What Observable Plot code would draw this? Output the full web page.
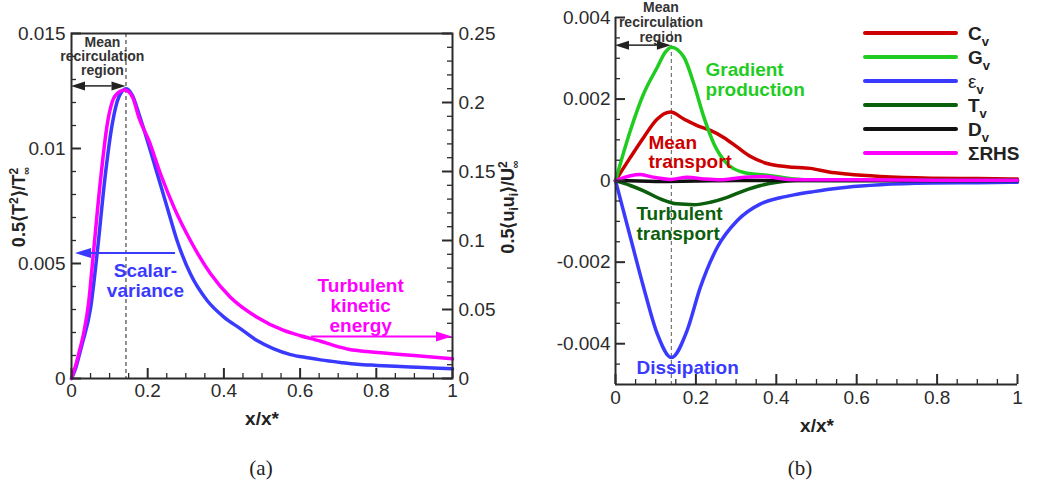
<!DOCTYPE html>
<html><head><meta charset="utf-8">
<script src="https://cdn.jsdelivr.net/npm/d3@7"></script>
<script src="https://cdn.jsdelivr.net/npm/@observablehq/plot@0.6"></script>
<style>
body{margin:0;background:#fff;}
#wrap{position:relative;width:1037px;height:487px;overflow:hidden;background:#fff;}
#wrap svg{position:absolute;top:0;}
</style></head><body><div id="wrap"></div>
<script>
// ---------- Panel (a) data ----------
const xScalar = [0, 0.01, 0.019, 0.028, 0.05, 0.069, 0.087, 0.107, 0.124, 0.144, 0.16, 0.177, 0.199, 0.225, 0.251, 0.277, 0.312, 0.356, 0.4, 0.444, 0.487, 0.531, 0.575, 0.62, 0.654, 0.706, 0.75, 0.802, 0.85, 0.907, 0.95, 1.0];
const scalarVariance = [0, 0.0004, 0.00093, 0.0015, 0.00305, 0.0057, 0.0086, 0.01107, 0.01223, 0.0126, 0.0123, 0.0115, 0.01035, 0.0089, 0.00745, 0.006, 0.00455, 0.00339, 0.00267, 0.00216, 0.00165, 0.00129, 0.00104, 0.0009, 0.00081, 0.0007, 0.00062, 0.00057, 0.00053, 0.00049, 0.00046, 0.00042];
const xTke = [0, 0.0105, 0.019, 0.032, 0.045, 0.056, 0.076, 0.094, 0.115, 0.14, 0.16, 0.177, 0.203, 0.234, 0.269, 0.312, 0.365, 0.417, 0.487, 0.557, 0.601, 0.654, 0.688, 0.73, 0.776, 0.82, 0.864, 0.93, 1.0];
const tkeValues = [0, 0.009, 0.018, 0.033, 0.055, 0.0865, 0.1435, 0.1845, 0.205, 0.209, 0.204, 0.189, 0.1725, 0.148, 0.124, 0.1, 0.0759, 0.0589, 0.0444, 0.0348, 0.031, 0.027, 0.024, 0.021, 0.0195, 0.0185, 0.0174, 0.016, 0.0143];
const xMajor = [0, 0.2, 0.4, 0.6, 0.8, 1];
const xMinor = [0.05, 0.1, 0.15, 0.25, 0.3, 0.35, 0.45, 0.5, 0.55, 0.65, 0.7, 0.75, 0.85, 0.9, 0.95];
const yMajorA = [0, 0.005, 0.01, 0.015];
const yMinorA = [0.001, 0.002, 0.003, 0.004, 0.006, 0.007, 0.008, 0.009, 0.011, 0.012, 0.013, 0.014];
const tkeMajor = [0, 0.05, 0.1, 0.15, 0.2, 0.25];
const tkeMinor = [0.01, 0.02, 0.03, 0.04, 0.06, 0.07, 0.08, 0.09, 0.11, 0.12, 0.13, 0.14, 0.16, 0.17, 0.18, 0.19, 0.21, 0.22, 0.23, 0.24];
const recirculationA = 0.143;

// ---------- Panel (b) data ----------
const xC = [0, 0.037, 0.07, 0.104, 0.137, 0.17, 0.203, 0.236, 0.269, 0.303, 0.336, 0.377, 0.427, 0.485, 0.531, 0.576, 0.659, 0.784, 0.9, 1.0];
const Cv = [0, 0.00057, 0.00106, 0.00151, 0.00168, 0.00151, 0.00135, 0.00123, 0.00106, 0.00082, 0.00059, 0.00042, 0.00034, 0.0003, 0.00021, 0.00016, 0.0001, 0.00006, 0.00005, 0.00004];
const xG = [0, 0.037, 0.07, 0.104, 0.124, 0.139, 0.17, 0.195, 0.22, 0.245, 0.278, 0.319, 0.386, 0.444, 0.5, 0.6, 1.0];
const Gv = [0, 0.00123, 0.00213, 0.00278, 0.00315, 0.00327, 0.00303, 0.00237, 0.00155, 0.0009, 0.00041, 0.0002, 0.00012, 0.00004, 0.00001, 0, 0];
const xE = [0, 0.037, 0.07, 0.104, 0.139, 0.178, 0.211, 0.253, 0.303, 0.361, 0.41, 0.444, 0.493, 0.527, 0.576, 0.659, 0.784, 0.9, 1.0];
const Ev = [0, -0.00139, -0.00262, -0.00376, -0.00434, -0.00368, -0.00262, -0.00164, -0.00098, -0.00057, -0.00042, -0.00035, -0.00027, -0.00022, -0.00016, -0.0001, -0.00006, -0.00005, -0.00004];
const xT = [0, 0.037, 0.07, 0.112, 0.153, 0.195, 0.236, 0.278, 0.319, 0.361, 0.402, 0.45, 1.0];
const Tv = [0, -0.00012, -0.00025, -0.00045, -0.00057, -0.00059, -0.00053, -0.00041, -0.00025, -0.00012, -0.00004, 0, 0];
const xD = [0, 0.1, 0.2, 0.3, 0.4, 0.5, 1.0];
const Dv = [0, -0.00002, -0.00001, 0, 0, 0, 0];
const xR = [0, 0.037, 0.062, 0.095, 0.137, 0.178, 0.22, 0.26, 0.32, 0.37, 0.43, 0.5, 0.6, 0.8, 1.0];
const RHSv = [0, 0.00012, 0.00015, 0.00008, 0.00003, 0.00008, 0.00004, 0.00002, 0.00008, 0.0001, 0.00003, 0.00002, 0.00002, 0.00001, 0.00001];
const yMajorB = [-0.004, -0.002, 0, 0.002, 0.004];
const yMinorB = [-0.0045, -0.0035, -0.003, -0.0025, -0.0015, -0.001, -0.0005, 0.0005, 0.001, 0.0015, 0.0025, 0.003, 0.0035];
const recirculationB = 0.139;
const legendNames = ["C", "G", "ε", "T", "D", "ΣRHS"];

// ---------- styles ----------
const FONT = '"Liberation Sans", Arial, Helvetica, sans-serif';
const AX = "#2b2b2b";
const BLUE = "#3a3aff", MAGENTA = "#ff00ff", RED = "#cc0000", GREEN = "#1fcc1f", DKGREEN = "#0b5e0b", BLACK = "#111111";
const CURVE = "monotone-x";
const fmt = d => String(d);
const rows = (xs, vs) => xs.map((x, i) => ({x, v: vs[i]}));
const ratio = 0.015 / 0.25;

const wrap = d3.select("#wrap");

function arrow(svg, plot, x1, y1, x2, y2, color, opts = {}) {
  const {head = 14, half = 5, width = 1.6, both = false} = opts;
  const sx = plot.scale("x"), sy = plot.scale("y");
  const X1 = sx.apply(x1), Y1 = sy.apply(y1), X2 = sx.apply(x2), Y2 = sy.apply(y2);
  const a = Math.atan2(Y2 - Y1, X2 - X1), c = Math.cos(a), s = Math.sin(a);
  const sX1 = both ? X1 + head * c : X1, sY1 = both ? Y1 + head * s : Y1;
  svg.append("line").attr("x1", sX1).attr("y1", sY1).attr("x2", X2 - head * c).attr("y2", Y2 - head * s)
    .attr("stroke", color).attr("stroke-width", width);
  const tri = (px, py, dc, ds) => {
    const bx = px - head * dc, by = py - head * ds;
    svg.append("polygon").attr("fill", color)
      .attr("points", `${px},${py} ${bx + half * ds},${by - half * dc} ${bx - half * ds},${by + half * dc}`);
  };
  tri(X2, Y2, c, s);
  if (both) tri(X1, Y1, -c, -s);
}
function rich(sel, parts) {
  parts.forEach(p => {
    const t = sel.append("tspan").text(p.t);
    if (p.dx) t.attr("dx", p.dx);
    if (p.dy) t.attr("dy", p.dy);
    if (p.size) t.attr("font-size", p.size);
    if (p.weight) t.attr("font-weight", p.weight);
  });
}

// ---------- Panel (a) ----------
const WA = 540, HA = 487, mLA = 71, mRA = 88, mTA = 33, mBA = 109;
const innerWA = WA - mLA - mRA, innerHA = HA - mTA - mBA;
const pa = Plot.plot({
  width: WA, height: HA, marginLeft: mLA, marginRight: mRA, marginTop: mTA, marginBottom: mBA,
  x: {domain: [0, 1], label: null}, y: {domain: [0, 0.015], label: null},
  style: {fontFamily: FONT, fontSize: "19px", color: AX, background: "transparent", overflow: "visible"},
  marks: [
    Plot.ruleX([recirculationA], {stroke: "#222", strokeWidth: 1, strokeDasharray: "4,3"}),
    Plot.line(rows(xScalar, scalarVariance), {x: "x", y: "v", stroke: BLUE, strokeWidth: 3.5, curve: CURVE}),
    Plot.line(rows(xTke, tkeValues), {x: "x", y: d => d.v * ratio, stroke: MAGENTA, strokeWidth: 3.5, curve: CURVE}),
    Plot.tickX(xMajor, {x: d => d, insetTop: innerHA - 10, stroke: AX, strokeWidth: 2}),
    Plot.tickX(xMinor, {x: d => d, insetTop: innerHA - 5, stroke: AX, strokeWidth: 1.3}),
    Plot.tickY(yMajorA, {y: d => d, insetRight: innerWA - 10, stroke: AX, strokeWidth: 2}),
    Plot.tickY(yMinorA, {y: d => d, insetRight: innerWA - 5, stroke: AX, strokeWidth: 1.3}),
    Plot.tickY(tkeMajor, {y: d => d * ratio, insetLeft: innerWA - 10, stroke: AX, strokeWidth: 2}),
    Plot.tickY(tkeMinor, {y: d => d * ratio, insetLeft: innerWA - 5, stroke: AX, strokeWidth: 1.3}),
    Plot.frame({stroke: AX, strokeWidth: 2}),
    Plot.axisX(xMajor, {tickSize: 0, tickPadding: 5, tickFormat: fmt, label: null, fontSize: 19}),
    Plot.axisY(yMajorA, {anchor: "left", tickSize: 0, tickPadding: 6, tickFormat: fmt, label: null, fontSize: 19}),
    Plot.axisY(tkeMajor.map(t => t * ratio), {anchor: "right", tickSize: 0, tickPadding: 6,
      tickFormat: d => fmt(Math.round(d / ratio * 1000) / 1000), label: null, fontSize: 19}),
    Plot.text([{x: 0.081, y: 0.014, t: "Mean\nrecirculation\nregion"}], {x: "x", y: "y", text: "t",
      fontSize: 14, fontWeight: "bold", fill: "#333", lineHeight: 1.0}),
    Plot.text([{x: 0.194, y: 0.00426, t: "Scalar-\nvariance"}], {x: "x", y: "y", text: "t",
      fontSize: 19, fontWeight: "bold", fill: BLUE, lineHeight: 1.05}),
    Plot.text([{x: 0.759, y: 0.00317, t: "Turbulent\nkinetic\nenergy"}], {x: "x", y: "y", text: "t",
      fontSize: 19, fontWeight: "bold", fill: MAGENTA, lineHeight: 1.05})
  ]
});
pa.style.left = "0px";
wrap.node().appendChild(pa);
const sa = d3.select(pa);
arrow(sa, pa, 0, 0.0127, recirculationA, 0.0127, "#222", {both: true, head: 14, half: 4.5, width: 1.5});
arrow(sa, pa, 0.273, 0.00543, 0.0105, 0.00543, BLUE, {head: 16, half: 5, width: 2});
arrow(sa, pa, 0.63, 0.0018, 1.0, 0.0018, MAGENTA, {head: 16, half: 5, width: 2});
const la = sa.append("text").attr("transform", "translate(25,207) rotate(-90)").attr("text-anchor", "middle")
  .attr("font-family", FONT).attr("font-size", 18).attr("font-weight", "bold").attr("fill", "#222");
rich(la, [{t: "0.5⟨T"}, {t: "2", dy: -7, size: 12}, {t: "⟩/T", dy: 7}, {t: "2", dy: -7, size: 12}, {t: "∞", dx: -7, dy: 12, size: 11}]);
const ra = sa.append("text").attr("transform", "translate(514,207) rotate(-90)").attr("text-anchor", "middle")
  .attr("font-family", FONT).attr("font-size", 18).attr("font-weight", "bold").attr("fill", "#222");
rich(ra, [{t: "0.5⟨u"}, {t: "i", dy: 4, size: 12}, {t: "u", dy: -4}, {t: "i", dy: 4, size: 12}, {t: "⟩/U", dy: -4},
  {t: "2", dy: -7, size: 12}, {t: "∞", dx: -7, dy: 12, size: 11}]);
sa.append("text").attr("x", 262).attr("y", 425).attr("text-anchor", "middle").attr("font-family", FONT)
  .attr("font-size", 19).attr("font-weight", "bold").attr("fill", "#222").text("x/x*");
sa.append("text").attr("x", 261).attr("y", 475).attr("text-anchor", "middle")
  .attr("font-family", '"Liberation Serif", "DejaVu Serif", serif').attr("font-size", 21).attr("fill", "#222").text("(a)");

// ---------- Panel (b) ----------
const OB = 530, WB = 507, HB = 487, mLB = 85, mRB = 20, mTB = 17, mBB = 103;
const innerWB = WB - mLB - mRB, innerHB = HB - mTB - mBB;
const seriesB = [
  {name: legendNames[0], color: RED, data: rows(xC, Cv)},
  {name: legendNames[1], color: GREEN, data: rows(xG, Gv)},
  {name: legendNames[2], color: BLUE, data: rows(xE, Ev)},
  {name: legendNames[3], color: DKGREEN, data: rows(xT, Tv)},
  {name: legendNames[4], color: BLACK, data: rows(xD, Dv)},
  {name: legendNames[5], color: MAGENTA, data: rows(xR, RHSv)}
];
const pb = Plot.plot({
  width: WB, height: HB, marginLeft: mLB, marginRight: mRB, marginTop: mTB, marginBottom: mBB,
  x: {domain: [0, 1], label: null}, y: {domain: [-0.005, 0.004], label: null},
  style: {fontFamily: FONT, fontSize: "19px", color: AX, background: "transparent", overflow: "visible"},
  marks: [
    Plot.ruleX([recirculationB], {stroke: "#777", strokeWidth: 1.2, strokeDasharray: "4,3"}),
    ...seriesB.map(s => Plot.line(s.data, {x: "x", y: "v", stroke: s.color, strokeWidth: 3.5, curve: CURVE})),
    Plot.tickX(xMajor, {x: d => d, insetTop: innerHB - 10, stroke: AX, strokeWidth: 2}),
    Plot.tickX(xMinor, {x: d => d, insetTop: innerHB - 5, stroke: AX, strokeWidth: 1.3}),
    Plot.tickY(yMajorB, {y: d => d, insetRight: innerWB - 10, stroke: AX, strokeWidth: 2}),
    Plot.tickY(yMinorB, {y: d => d, insetRight: innerWB - 5, stroke: AX, strokeWidth: 1.3}),
    Plot.ruleX([0], {stroke: AX, strokeWidth: 2}),
    Plot.ruleY([-0.005], {stroke: AX, strokeWidth: 2}),
    Plot.axisX(xMajor, {tickSize: 0, tickPadding: 6, tickFormat: fmt, label: null, fontSize: 19}),
    Plot.axisY(yMajorB, {anchor: "left", tickSize: 0, tickPadding: 5, tickFormat: fmt, label: null, fontSize: 19}),
    Plot.text([{x: 0.113, y: 0.00388, t: "Mean\nrecirculation\nregion"}], {x: "x", y: "y", text: "t",
      fontSize: 14, fontWeight: "bold", fill: "#333", lineHeight: 1.07}),
    Plot.text([{x: 0.224, y: 0.00247, t: "Gradient\nproduction"}], {x: "x", y: "y", text: "t", textAnchor: "start",
      fontSize: 19, fontWeight: "bold", fill: GREEN, lineHeight: 1.02}),
    Plot.text([{x: 0.082, y: 0.00069, t: "Mean\ntransport"}], {x: "x", y: "y", text: "t", textAnchor: "start",
      fontSize: 19, fontWeight: "bold", fill: RED, lineHeight: 1.02}),
    Plot.text([{x: 0.052, y: -0.00106, t: "Turbulent\ntransport"}], {x: "x", y: "y", text: "t", textAnchor: "start",
      fontSize: 19, fontWeight: "bold", fill: DKGREEN, lineHeight: 1.02}),
    Plot.text([{x: 0.052, y: -0.00459, t: "Dissipation"}], {x: "x", y: "y", text: "t", textAnchor: "start",
      fontSize: 19, fontWeight: "bold", fill: BLUE})
  ]
});
pb.style.left = OB + "px";
wrap.node().appendChild(pb);
const sb = d3.select(pb);
arrow(sb, pb, 0, 0.00331, recirculationB, 0.00331, "#222", {both: true, head: 14, half: 4.5, width: 1.5});
// legend
seriesB.forEach((s, i) => {
  const y = 33 + i * 24;
  sb.append("line").attr("x1", 335).attr("x2", 426).attr("y1", y).attr("y2", y)
    .attr("stroke", s.color).attr("stroke-width", 4).attr("stroke-linecap", "round");
  const t = sb.append("text").attr("x", 438).attr("y", y + 6.5).attr("text-anchor", "start").attr("font-family", FONT)
    .attr("font-size", 19).attr("font-weight", s.name === "ε" ? "normal" : "bold").attr("fill", "#222");
  if (s.name === "ΣRHS") rich(t, [{t: s.name}]);
  else rich(t, [{t: s.name}, {t: "v", dy: 6, size: 13, weight: "bold"}]);
});
sb.append("text").attr("x", 287).attr("y", 432).attr("text-anchor", "middle").attr("font-family", FONT)
  .attr("font-size", 19).attr("font-weight", "bold").attr("fill", "#222").text("x/x*");
sb.append("text").attr("x", 270).attr("y", 475).attr("text-anchor", "middle")
  .attr("font-family", '"Liberation Serif", "DejaVu Serif", serif').attr("font-size", 21).attr("fill", "#222").text("(b)");
</script></body></html>
